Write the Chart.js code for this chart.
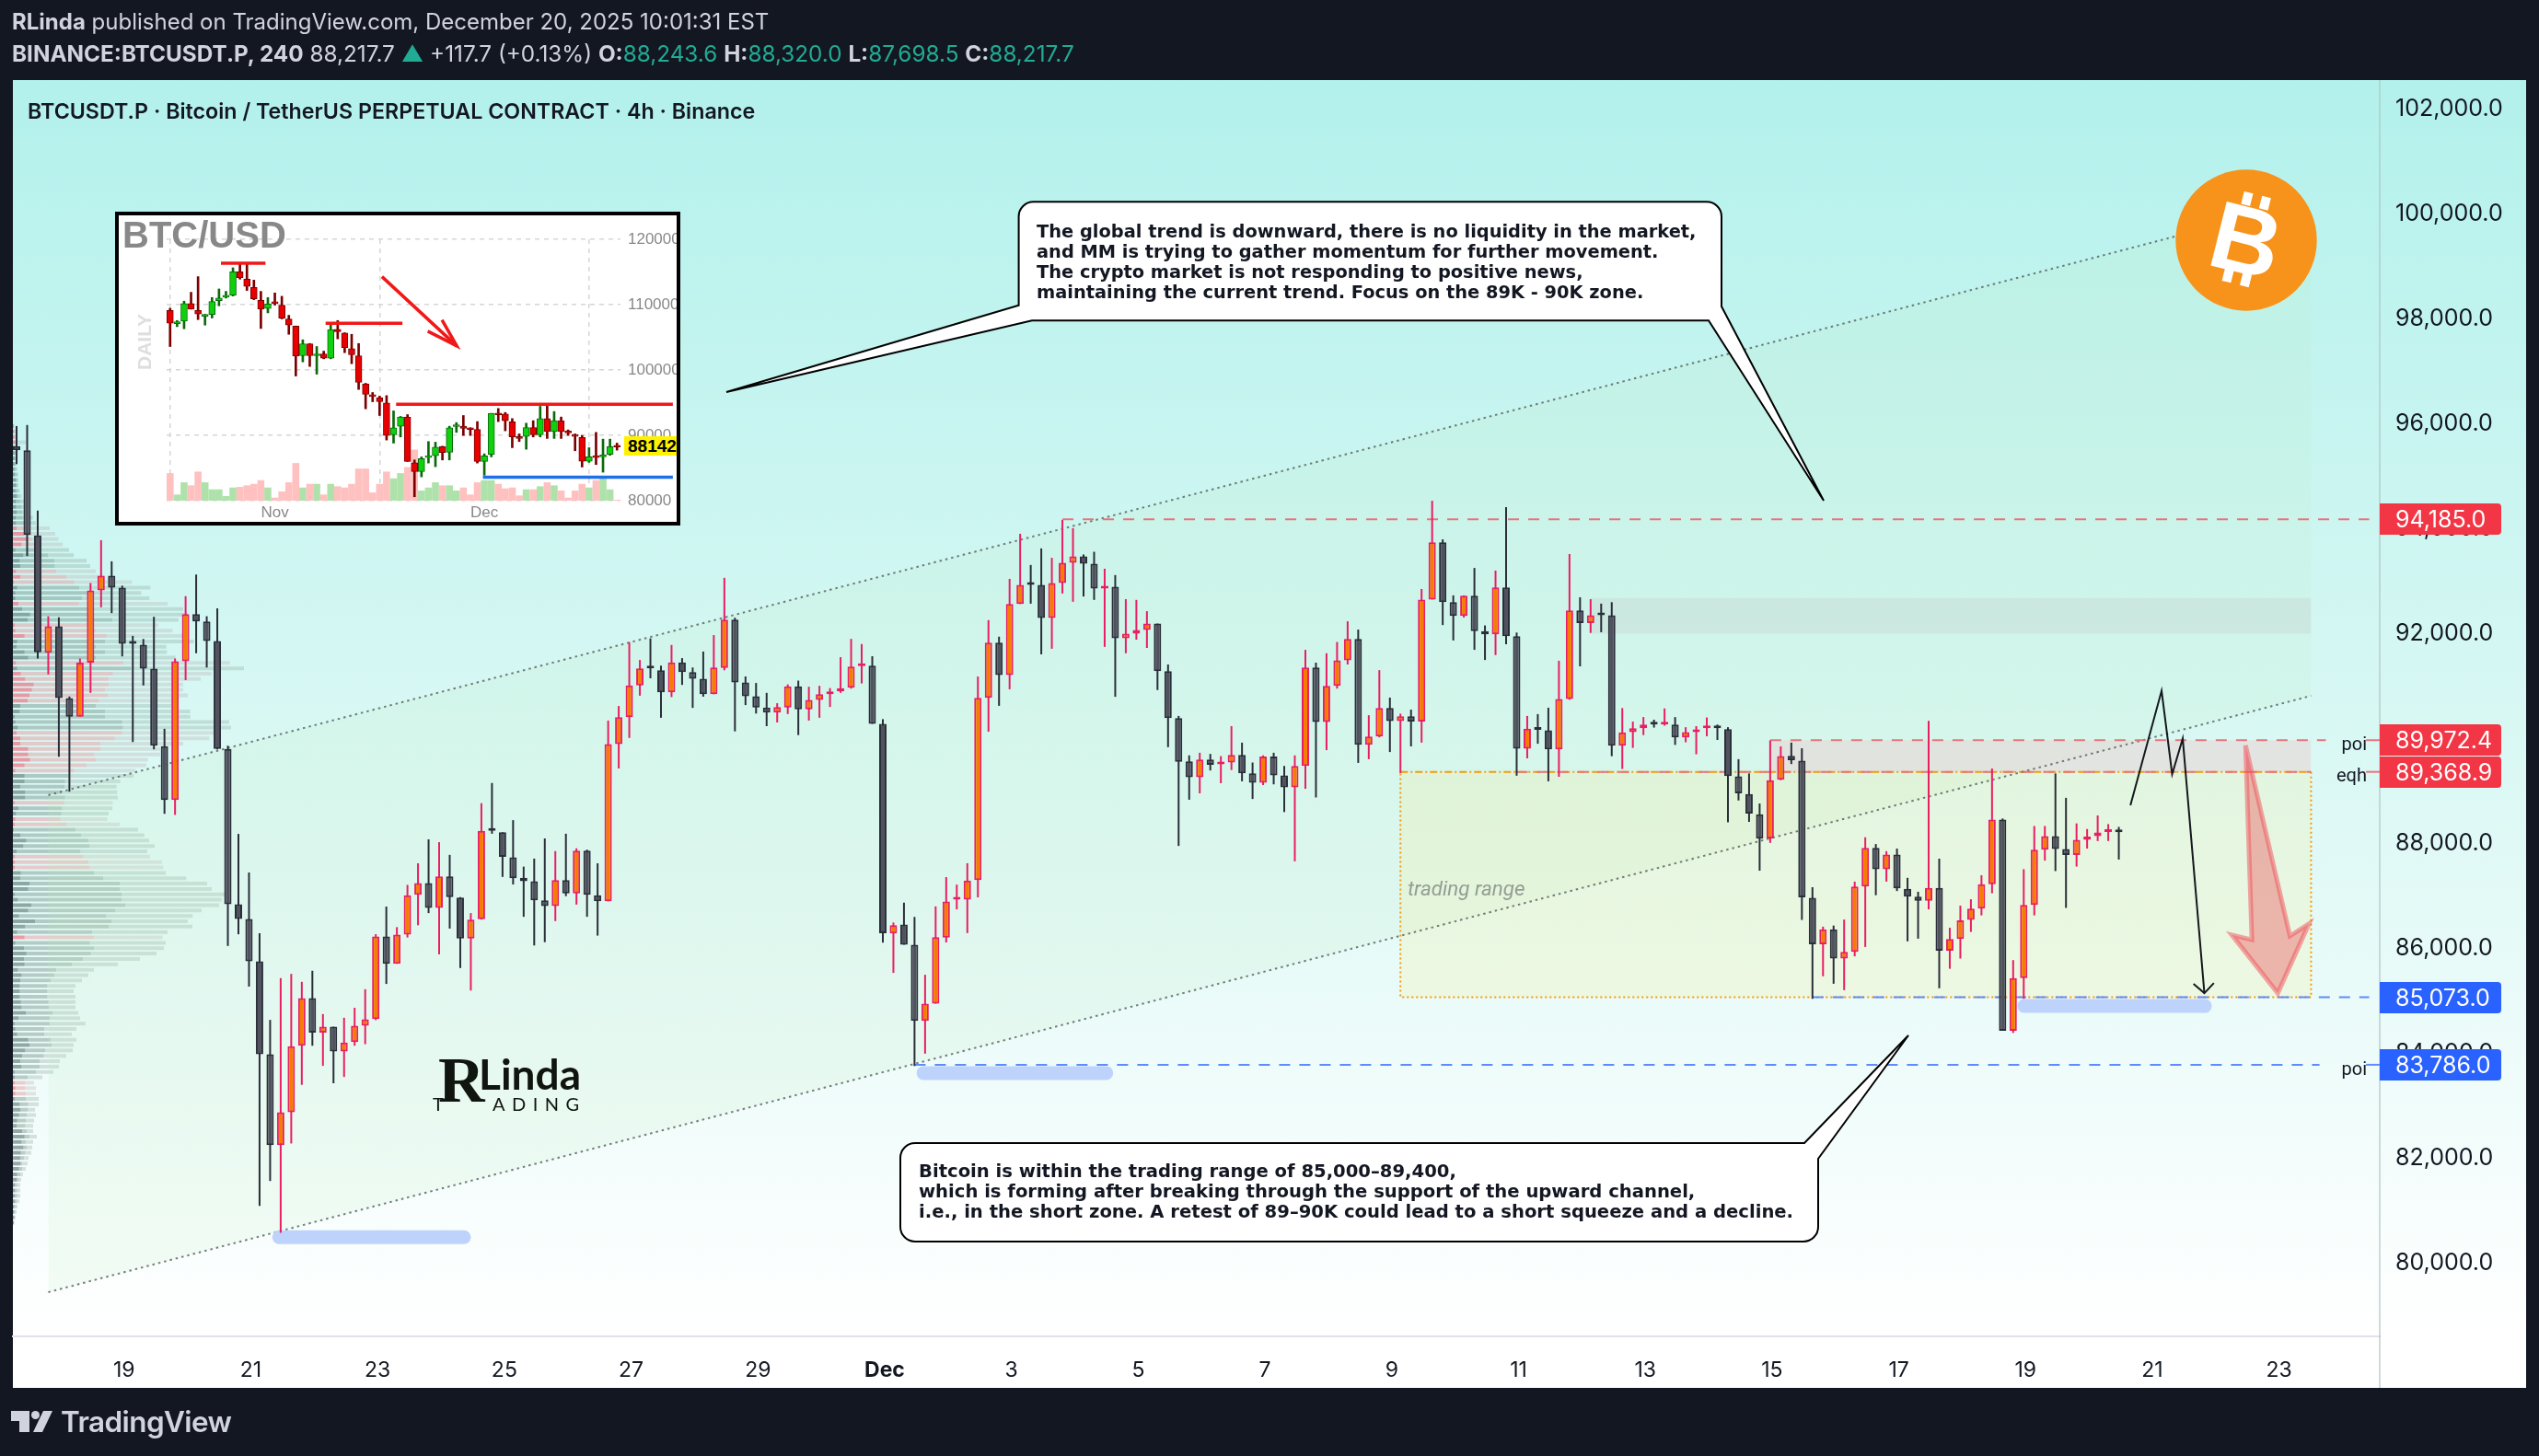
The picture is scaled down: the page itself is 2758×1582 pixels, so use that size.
<!DOCTYPE html>
<html>
<head>
<meta charset="utf-8">
<title>BTCUSDT.P</title>
<script src="https://cdn.jsdelivr.net/npm/chart.js@4"></script>
<style>
    html, body { margin: 0; padding: 0; background: #131722; }
    #page { position: relative; width: 2758px; height: 1582px; overflow: hidden; background: #131722; font-family: Inter, sans-serif; }
    #panel { position: absolute; left: 14px; top: 87px; width: 2730px; height: 1421px; background: linear-gradient(#b3f1ec 0%, #d9f8f4 50%, #ffffff 96%); }
    #xband { position: absolute; left: 14px; top: 1452px; width: 2730px; height: 56px; background: #fff; }
    #mainChart { position: absolute; left: 0; top: 0; }
    .txt { position: absolute; white-space: pre; z-index: 3; }
    .head { color: #d1d4dc; font-size: 24px; line-height: 30px; left: 13px; }
    .teal { color: #22ab94; }
    .callout { font-family: "DejaVu Sans", sans-serif; font-weight: 700; font-size: 19.4px; line-height: 22px; color: #131722; }
    .lvl { font-family: Roboto, sans-serif; font-size: 20px; color: #131722; width: 50px; text-align: right; }
    #inset { position: absolute; left: 125px; top: 230px; width: 606px; height: 333px; border: 4.5px solid #000; background: #fff; overflow: hidden; z-index: 2; }
    #insetChart { position: absolute; left: 0; top: 0; }
    #insetChart + div { z-index: 2; }
</style>
</head>
<body>
<div id="page">
    <div id="panel"></div>
    <div id="xband"></div>
    <canvas id="mainChart" width="2758" height="1582"></canvas>

    <div class="txt head" style="top:9px"><b>RLinda</b> published on TradingView.com, December 20, 2025 10:01:31 EST</div>
    <div class="txt head" style="top:43px;font-size:24.3px"><b>BINANCE:BTCUSDT.P, 240</b> 88,217.7 <span class="teal">▲</span> +117.7 (+0.13%) <b>O:</b><span class="teal">88,243.6</span> <b>H:</b><span class="teal">88,320.0</span> <b>L:</b><span class="teal">87,698.5</span> <b>C:</b><span class="teal">88,217.7</span></div>
    <div class="txt" style="left:30px;top:106px;font-size:23.25px;font-weight:600;color:#131722">BTCUSDT.P · Bitcoin / TetherUS PERPETUAL CONTRACT · 4h · Binance</div>

    <div class="txt callout" style="left:1126px;top:241px">The global trend is downward, there is no liquidity in the market,
and MM is trying to gather momentum for further movement.
The crypto market is not responding to positive news,
maintaining the current trend. Focus on the 89K - 90K zone.</div>
    <div class="txt callout" style="left:998px;top:1262px;font-size:19.6px">Bitcoin is within the trading range of 85,000–89,400,
which is forming after breaking through the support of the upward channel,
i.e., in the short zone. A retest of 89–90K could lead to a short squeeze and a decline.</div>

    <div class="txt" style="left:1529px;top:952px;font-family:Roboto,sans-serif;font-style:italic;font-size:22.4px;color:#949d95">trading range</div>
    <div class="txt lvl" style="left:2521px;top:796px">poi</div>
    <div class="txt lvl" style="left:2521px;top:830px">eqh</div>
    <div class="txt lvl" style="left:2521px;top:1149px">poi</div>

    <!-- marca de agua -->
    <div class="txt" style="left:476px;top:1137px;font-family:'Liberation Serif',serif;font-weight:700;font-size:70px;line-height:74px;color:#10160f">R</div>
    <div class="txt" style="left:520px;top:1140px;font-family:Lato,sans-serif;font-weight:700;font-size:46px;line-height:54px;color:#10160f">Linda</div>
    <div class="txt" style="left:470px;top:1187px;font-family:Lato,sans-serif;font-size:20px;line-height:24px;color:#10160f">T</div>
    <div class="txt" style="left:535px;top:1187px;font-family:Lato,sans-serif;font-size:20px;line-height:24px;letter-spacing:7.5px;color:#10160f">ADING</div>

    <!-- logo BTC -->
    <svg style="position:absolute;left:2363px;top:184px;z-index:2" width="154" height="154" viewBox="0 0 154 154">
        <circle cx="77" cy="77" r="76.7" fill="#f7931a"/>
        <g transform="rotate(14 77 77)" fill="#fff">
            <text x="77" y="113" text-anchor="middle" font-family="Liberation Sans" font-weight="700" font-size="104">B</text>
            <rect x="62" y="26" width="10" height="14"/><rect x="82" y="26" width="10" height="14"/>
            <rect x="62" y="112" width="10" height="14"/><rect x="82" y="112" width="10" height="14"/>
        </g>
    </svg>

    <!-- grafico pequeno -->
    <div id="inset">
        <canvas id="insetChart" width="606" height="333"></canvas>
        <div class="txt" style="left:4px;top:-2px;font-family:'Liberation Sans',sans-serif;font-weight:700;font-size:40px;line-height:46px;color:#888">BTC/USD</div>
        <div class="txt" style="left:-2px;top:125px;width:60px;height:26px;font-family:'Liberation Sans',sans-serif;font-weight:700;font-size:21px;line-height:26px;color:#dedede;transform:rotate(-90deg)">DAILY</div>
        <div class="txt" style="left:549px;top:240px;width:60px;height:21px;background:#fff200;font-family:'Liberation Sans',sans-serif;font-weight:700;font-size:19px;line-height:21px;color:#000;padding-left:4px">88142.</div>
    </div>

    <!-- pie -->
    <svg style="position:absolute;left:12px;top:1533px" width="46" height="24" viewBox="0 0 46 24" fill="#d1d4dc">
        <path d="M0 0H20V23H9V11H0Z"/><circle cx="26.5" cy="4.5" r="4.5"/><path d="M35 0H45L34 23H24Z"/>
    </svg>
    <div class="txt" style="left:66px;top:1524px;font-size:31.5px;line-height:42px;font-weight:600;color:#d1d4dc;letter-spacing:-0.6px">TradingView</div>
</div>

<script>
    Chart.defaults.font.family = 'Inter';

    // Velas de 4h, la barra 0 es el 1 de diciembre
    const firstBar = -82;
    const opens = [
        95578,95497,93876,91640,92144,90774,90422,91449,92828,93110,
        92879,91821,91791,91338,89858,88831,91479,92375,92234,91862,
        89807,86847,86565,85759,83987,82255,82879,84148,85054,84400,
        84511,84037,84219,84531,84655,86230,85711,86266,87026,87250,
        86776,87375,86973,86194,86561,88262,88217,87742,87349,87286,
        86919,86812,87304,87053,87868,87018,86901,89899,90410,91018,
        91358,91305,90884,91457,91269,91143,90848,91349,92271,91072,
        90812,90597,90499,90597,90999,90562,90740,90848,90902,90973,
        91385,91394,90284,86289,86461,86074,84621,84950,86210,86933,
        86933,87306,90778,91831,91215,92568,92948,92933,92303,92969,
        93356,93478,93335,92862,92898,91917,92003,92074,92196,91287,
        90392,89568,89268,89604,89511,89547,89690,89339,89160,89661,
        89303,89074,89482,91358,90320,91007,91494,91903,89883,90041,
        90585,90335,90427,90327,92654,93743,92604,92339,92726,92053,
        91988,92883,91953,89812,90191,90163,89797,90757,92447,92203,
        92375,92354,89869,90127,90199,90285,90270,90270,90027,90127,
        90199,90220,90184,89282,88946,88559,88100,89218,89676,89583,
        86969,86082,86368,85810,85938,87184,87922,87514,87793,87141,
        86991,86912,87156,85960,86182,86547,86762,87227,88459,84435,
        85437,86833,87886,88144,87900,87786,88072,88144,88223,88244
    ];
    const highs = [
        95960,95980,94349,92335,92315,90805,91530,92969,93785,93382,
        92919,91962,91902,92325,90190,91530,92718,93130,92335,92486,
        89868,88186,87451,86293,84641,85437,85518,85367,85578,84752,
        84511,84682,84873,85226,86275,86802,86409,87214,87626,88083,
        88029,87787,86982,86677,88772,89157,88217,88449,87563,87716,
        88100,87859,88190,87912,87886,87626,90347,90624,91842,91501,
        91913,91394,91788,91537,91358,91662,91976,93068,92307,91188,
        91063,90875,90678,91036,91108,90991,91009,90965,91555,91904,
        91806,91573,90374,86497,86876,86604,85501,86805,87363,87220,
        87628,91187,92261,91946,93048,93907,93313,93628,93449,94172,
        94015,93513,93564,93241,93120,92661,92647,92432,92196,91416,
        90435,89683,89733,89711,89669,90241,89926,89547,89683,89733,
        89482,89683,91695,91451,91630,91845,92239,92081,90449,91308,
        90785,90478,90556,92855,94537,93800,92733,92733,93256,92160,
        93206,94416,92024,90435,90470,90592,91487,93521,92697,92661,
        92576,92604,90585,90327,90413,90363,90578,90413,90220,90241,
        90406,90270,90220,89611,89339,88766,89969,89855,89927,89819,
        87170,86418,86440,86554,87277,88122,87993,87857,87907,87349,
        87084,90342,87714,86397,86819,86941,87399,89433,88480,85781,
        87514,88337,88337,89339,88874,88387,88280,88538,88373,88320
    ];
    const lows = [
        95235,93483,91529,91227,89656,88992,90422,90875,92506,92395,
        91570,89938,91016,89798,88569,88549,91117,91630,91358,89798,
        86051,86273,85276,81097,81570,80582,82285,83403,84148,83766,
        83433,83554,84148,84178,84637,85326,85711,86212,86445,86677,
        85890,86382,85630,85201,86552,88190,87366,87223,86606,86060,
        86123,86525,87000,86839,86606,86248,86901,89434,90016,90821,
        91152,90400,90794,91027,90588,90803,90848,91305,90141,90642,
        90481,90240,90311,90472,90070,90347,90400,90606,90875,90955,
        91054,90284,86114,85537,86074,83762,83998,84950,86117,86747,
        86296,86976,90134,90628,90943,92568,92575,91609,91716,92769,
        92611,92712,92647,91752,90800,91630,91888,91731,90929,89840,
        87957,88838,88960,89396,89153,89404,89189,88852,89117,89131,
        88603,87664,89046,88881,89783,90957,91416,89540,89611,90027,
        89747,89346,89855,89926,92654,92167,91874,92311,91695,91501,
        91595,91802,89296,89626,89905,89189,89275,90743,91380,92017,
        92031,89668,89425,89826,90070,90213,90249,89883,89933,89704,
        90048,89977,88408,88824,88416,87485,88015,89210,89518,86547,
        85043,85473,85330,85208,85853,86031,87018,87277,87098,86139,
        86189,86748,85244,85616,85810,86318,86633,87055,84435,84392,
        85043,86633,87678,87478,86776,87564,87907,88051,88051,87698
    ];
    const closes = [
        95497,93886,91650,92144,90774,90422,91449,92828,93110,92879,
        91811,91811,91338,89868,88831,91479,92375,92234,91862,89807,
        86847,86565,85759,83987,82255,82879,84138,85054,84400,84511,
        84037,84209,84531,84652,86230,85711,86266,87018,87250,86776,
        87375,86982,86194,86552,88244,88244,87751,87340,87286,86919,
        86812,87304,87053,87868,87026,86901,89899,90410,91018,91340,
        91340,90884,91457,91269,91143,90848,91358,92271,91072,90812,
        90597,90499,90606,90999,90562,90740,90848,90902,90965,91376,
        91403,90284,86292,86447,86074,84621,84950,86218,86898,86962,
        87298,90778,91831,91215,92568,92933,92933,92303,92969,93356,
        93478,93335,92862,92905,91917,92003,92074,92196,91287,90392,
        89561,89268,89604,89504,89547,89690,89339,89160,89661,89303,
        89074,89482,91358,90320,91007,91494,91903,89883,90041,90585,
        90335,90427,90327,92654,93743,92604,92339,92726,92053,91988,
        92883,91953,89812,90191,90170,89797,90757,92447,92203,92354,
        92354,89869,90120,90199,90270,90270,90285,90027,90127,90163,
        90220,90199,89289,88960,88573,88094,89210,89669,89590,86977,
        86082,86368,85810,85938,87184,87922,87514,87793,87148,86991,
        86912,87156,85960,86182,86540,86762,87227,88459,84435,85437,
        86833,87886,88144,87900,87786,88072,88137,88216,88237,88218
    ];

    // Etiquetas de los ejes
    const dayLabels = ['19','21','23','25','27','29','Dec','3','5','7','9','11','13','15','17','19','21','23'];
    const firstDayBar = -72;
    const barsPerLabel = 12;
    const priceTicks = [80000, 82000, 84000, 86000, 88000, 90000, 92000, 94000, 96000, 98000, 100000, 102000];

    // Niveles de precio
    const levelHigh = 94185;
    const levelPoi = 89972.4;
    const levelEqh = 89368.9;
    const levelRangeLow = 85073;
    const levelLow = 83786;

    // Perfil de volumen: filas de arriba a abajo
    const profileTop = 95960;
    const profileStep = 102.6;
    const profileOuter = [
        6,10,12,42,14,12,10,12,15,18,18,18,22,28,40,45,55,65,75,120,138,148,162,183,198,240,252,270,295,388,
        448,418,445,505,555,570,540,475,520,555,590,500,502,530,708,753,648,612,555,555,570,520,516,578,578,705,711,660,640,555,
        480,480,440,435,400,393,350,338,340,342,326,324,312,308,348,408,428,444,462,438,447,486,490,498,565,633,648,694,680,672,
        615,586,570,585,504,488,498,492,468,414,342,264,246,225,204,198,204,204,204,213,219,237,207,192,207,198,195,174,153,150,
        132,96,69,75,75,84,84,72,75,69,66,66,78,66,63,60,51,48,42,33,27,24,24,24,21,15,12,9,6
    ];
    const profileMid = [
        4,6,8,14,10,9,8,9,10,13,14,14,16,18,24,28,30,32,40,50,60,62,70,75,114,135,136,141,174,200,
        216,246,225,215,250,260,324,250,270,306,300,270,300,270,360,384,326,312,312,300,310,280,270,300,300,356,358,356,332,285,
        285,265,270,240,200,180,170,168,160,170,168,160,158,155,176,204,222,246,250,220,228,246,250,264,294,348,348,354,354,366,
        333,304,322,312,258,264,250,264,254,228,192,141,135,123,112,112,112,116,118,130,120,120,102,102,123,126,105,100,87,87,
        75,48,40,40,42,42,50,48,45,42,40,45,54,42,45,40,36,30,30,24,18,14,14,14,12,8,6,6,4
    ];
    const profileDark = [
        3,4,5,8,6,5,5,5,5,6,10,10,8,12,10,10,12,10,10,12,36,45,28,8,34,22,24,10,24,4,
        14,8,8,18,30,56,48,6,8,38,14,12,38,50,10,14,26,40,68,62,54,48,24,22,6,8,16,12,24,24,
        50,50,56,38,8,38,38,24,40,40,6,18,10,8,6,3,24,44,34,12,6,6,6,26,24,54,50,6,16,60,
        50,20,72,40,14,38,8,36,44,36,38,16,28,24,22,22,22,26,28,42,18,6,8,14,50,54,40,30,24,28,
        6,6,6,8,8,6,22,24,20,14,12,30,38,28,34,26,24,24,20,14,12,6,6,6,6,4,4,3,3
    ];
    const profilePink = [
        1,1,1,1,0,0,0,0,0,0,0,0,0,0,0,0,0,0,0,1,1,1,1,0,0,0,0,1,1,1,
        0,0,0,1,0,0,0,1,1,1,0,0,0,0,1,0,1,1,1,1,1,1,0,0,0,0,0,1,1,1,
        1,1,1,1,1,0,0,0,0,0,1,0,0,1,1,0,0,0,0,0,1,1,1,0,0,0,0,0,0,0,
        0,0,0,0,0,1,0,0,0,0,0,0,0,0,0,0,0,0,0,0,0,0,0,0,0,0,0,0,0,0,
        0,0,1,1,1,0,0,0,0,0,0,0,0,0,0,0,0,0,0,0,0,0,0,0,0,0,0,0,0
    ];

    // Trazos del dibujo, en barras y precio
    const channelStartBar = -79;
    const channelEndBar = 135.2;
    const channelUpper = [88925, 100257];
    const channelLower = [79451, 90819];
    const channelUpperDrawnEnd = [122.5, 99584];
    const pathBars = [118.1, 121.05, 122.05, 123.05, 125.1];
    const pathPrices = [88731, 90915, 89325, 90005, 85151];
    const headBars = [124.07, 125.1, 126];
    const headPrices = [85330, 85151, 85344];
    const bigArrowBars = [129, 133.2, 135, 132.05, 127.7, 129.6, 129];
    const bigArrowPrices = [89876, 86239, 86475, 85151, 86261, 86168, 89876];

    // Grafico pequeno (diario)
    const insetOpens = [109120,107100,107480,110150,109120,108230,108510,110620,111140,111460,115030,113900,112640,110670,109400,110340,109920,107810,106730,102180,104010,102180,102460,101800,106210,105650,103260,102180,97860,96080,95750,94960,90080,91390,92800,85810,84450,86610,86890,88250,87410,91340,91390,91060,90920,86000,87080,93360,93270,92050,89700,89840,91200,90080,92560,90590,92240,90500,90130,89660,86040,86800,86700,87080,88340];
    const insetHighs = [109450,107570,110530,111890,114280,108510,111090,112400,112030,115640,116150,116150,113760,112030,111090,111790,111280,108370,106730,104620,104050,103590,102880,106870,107570,105700,105460,104050,97960,96550,95990,96080,93740,92890,93170,86230,86700,89050,88950,88340,91390,91950,93030,91160,92100,87170,93360,94110,93500,92560,90220,91860,92240,94440,94670,93640,92800,90830,90220,89980,88110,90450,89420,89420,88810];
    const insetLows = [103590,106630,106310,109310,107710,106870,107950,109820,111000,111320,113900,112170,110760,106350,108740,109920,107810,105460,99080,101240,100540,99360,101710,101710,104760,102650,100960,97020,94060,95140,93030,89280,88810,89750,86000,80600,83650,85760,85200,86230,86230,90450,89980,89980,85760,83890,86700,92100,90690,88110,89050,87870,89750,89750,89520,89520,89520,89980,87640,85150,85860,85530,84360,86940,87730];
    const insetCloses = [107150,107240,110150,109310,108560,108370,110480,111000,111320,115030,114140,112780,110900,109310,110100,110150,107950,106870,102130,104010,102180,102410,101800,106170,105840,103440,102320,98100,96270,95940,95140,89980,91160,92800,86000,84450,86420,86800,88200,87360,91160,91530,91060,90880,86000,86840,93360,93130,92240,89750,89520,91200,90080,92560,90590,92240,90590,90360,89840,86040,86700,86610,86940,88250,88200];
    const insetVolumes = [90,20,60,50,95,60,37,37,15,43,45,50,55,67,43,10,30,60,123,43,55,55,20,55,47,43,55,105,105,27,55,95,73,90,110,167,33,43,60,50,50,33,43,20,60,67,67,55,40,43,17,37,37,47,60,50,33,10,33,55,43,67,73,37,3];
    const insetPriceTicks = [80000, 90000, 100000, 110000, 120000];
    const insetMonthBars = [15, 45];
    const insetMonthLabels = ['Nov', 'Dec'];

    const formatoPrecio = new Intl.NumberFormat('en-US', { minimumFractionDigits: 1, maximumFractionDigits: 1 });

    // Linea simple sin puntos
    function linea(puntos, color, ancho, dash, orden, extra) {
        return Object.assign({
            type: 'line',
            data: puntos.map(p => ({ x: p[0], y: p[1] })),
            borderColor: color,
            borderWidth: ancho,
            borderDash: dash || [],
            pointRadius: 0,
            fill: false,
            order: orden
        }, extra || {});
    }

    function nivel(precio, desde, hasta, color, dash, orden) {
        return linea([[desde, precio], [hasta, precio]], color, 2, dash, orden);
    }

    // Zonas del perfil como segmentos separados por huecos
    function segmentosPerfil(inicio, fin, rosa) {
        const unidad = 1 / 3 / 11.475; // ancho de una unidad en barras
        const xMin = -82.35;
        const puntos = [];
        profileOuter.forEach((_, i) => {
            if (profilePink[i] !== rosa) return;
            const precio = profileTop - i * profileStep;
            puntos.push({ x: xMin + inicio[i] * unidad, y: precio });
            puntos.push({ x: xMin + fin[i] * unidad, y: precio });
            puntos.push({ x: xMin + fin[i] * unidad, y: null });
        });
        return puntos;
    }

    function capaPerfil(inicio, fin, rosa, color) {
        return {
            type: 'line',
            data: segmentosPerfil(inicio, fin, rosa),
            borderColor: color,
            borderWidth: 4,
            pointRadius: 0,
            spanGaps: false,
            fill: false,
            order: 90
        };
    }

    const ceros = profileOuter.map(() => 0);
    const barIndex = opens.map((_, i) => firstBar + i);
    const isUp = closes.map((c, i) => c >= opens[i]);

    const datasets = [
        // perfil de volumen
        capaPerfil(ceros, profileDark, 0, 'rgba(70,100,95,0.55)'),
        capaPerfil(profileDark, profileMid, 0, 'rgba(95,125,115,0.38)'),
        capaPerfil(profileMid, profileOuter, 0, 'rgba(125,145,135,0.26)'),
        capaPerfil(ceros, profileDark, 1, 'rgba(240,95,115,0.62)'),
        capaPerfil(profileDark, profileMid, 1, 'rgba(235,125,135,0.38)'),
        capaPerfil(profileMid, profileOuter, 1, 'rgba(175,150,150,0.24)'),

        // relleno del canal
        linea([[channelStartBar, channelUpper[0]], [channelEndBar, channelUpper[1]]], 'transparent', 0, null, 80,
            { fill: '+1', backgroundColor: 'rgba(190,235,190,0.16)' }),
        linea([[channelStartBar, channelLower[0]], [channelEndBar, channelLower[1]]], 'transparent', 0, null, 80),

        // zonas
        linea([[49, levelEqh], [channelEndBar, levelEqh]], 'transparent', 0, null, 70,
            { fill: { value: levelRangeLow }, backgroundColor: 'rgba(250,235,150,0.22)' }),
        linea([[84, levelPoi], [channelEndBar, levelPoi]], 'transparent', 0, null, 70,
            { fill: { value: levelEqh }, backgroundColor: 'rgba(235,205,205,0.45)' }),
        linea([[67, 92683], [channelEndBar, 92683]], 'transparent', 0, null, 70,
            { fill: { value: 92003 }, backgroundColor: 'rgba(190,190,190,0.25)' }),
        linea([[channelEndBar, levelEqh], [channelEndBar, levelRangeLow], [49, levelRangeLow], [49, levelEqh]], '#f59b0b', 2, [2, 3], 65),
        linea([[49, levelEqh], [channelEndBar, levelEqh]], '#f59b0b', 2, [8, 3, 2, 3], 64),

        // lineas del canal
        linea([[channelStartBar, channelUpper[0]], channelUpperDrawnEnd], 'rgba(85,95,90,0.8)', 2, [2.5, 4], 60),
        linea([[channelStartBar, channelLower[0]], [channelEndBar, channelLower[1]]], 'rgba(85,95,90,0.8)', 2, [2.5, 4], 60),

        // niveles
        nivel(levelHigh, 17, 140.7, '#e5757c', [12, 10], 50),
        nivel(levelPoi, 84, 136.6, '#e5757c', [12, 10], 50),
        nivel(levelPoi, 140.4, 141.7, '#e5757c', null, 50),
        nivel(levelEqh, 60, 135.2, '#e5757c', [12, 10], 50),
        nivel(levelEqh, 140.4, 141.7, '#e5757c', null, 50),
        nivel(levelRangeLow, 88, 140.7, '#5f8bff', [12, 10], 50),
        nivel(levelLow, 3, 136, '#5f8bff', [12, 10], 50),
        nivel(levelLow, 140.4, 141.7, '#5f8bff', null, 50),

        // barras azules redondeadas
        linea([[-57.15, 80500], [-39.65, 80500]], '#bdd3fb', 15, null, 40, { borderCapStyle: 'round' }),
        linea([[3.85, 83628], [21.15, 83628]], '#bdd3fb', 15, null, 40, { borderCapStyle: 'round' }),
        linea([[108.05, 84905], [125.15, 84905]], '#bdd3fb', 15, null, 40, { borderCapStyle: 'round' }),

        // flecha roja grande
        linea(bigArrowBars.map((b, i) => [b, bigArrowPrices[i]]), 'rgba(242,80,90,0.5)', 5, null, 30,
            { fill: 'shape', backgroundColor: 'rgba(235,70,80,0.38)' }),

        // mechas
        {
            type: 'bar',
            data: barIndex.map((b, i) => ({ x: b, y: [lows[i], highs[i]] })),
            backgroundColor: isUp.map(u => u ? '#e91e63' : '#2a2e39'),
            barThickness: 2,
            grouped: false,
            inflateAmount: 0,
            order: 11
        },
        // cuerpos
        {
            type: 'bar',
            data: barIndex.map((b, i) => ({ x: b, y: [opens[i], closes[i]] })),
            backgroundColor: isUp.map(u => u ? '#f57c00' : '#50535e'),
            borderColor: isUp.map(u => u ? '#e91e63' : '#2a2e39'),
            borderWidth: 2,
            borderSkipped: false,
            barThickness: 8,
            minBarLength: 3,
            grouped: false,
            inflateAmount: 0,
            order: 10
        },

        // camino previsto
        linea(pathBars.map((b, i) => [b, pathPrices[i]]), '#15181c', 2, null, 5),
        linea(headBars.map((b, i) => [b, headPrices[i]]), '#15181c', 2, null, 5)
    ];

    // Globos de texto
    function dibujarGlobos(ctx) {
        ctx.save();
        ctx.fillStyle = '#ffffff';
        ctx.strokeStyle = '#000000';
        ctx.lineWidth = 2;
        const r = 16;

        ctx.beginPath();
        ctx.moveTo(1106.6 + r, 219.3);
        ctx.arcTo(1870, 219.3, 1870, 240, r);
        ctx.lineTo(1870, 333);
        ctx.lineTo(1981, 544);
        ctx.lineTo(1856, 348.3);
        ctx.lineTo(1121, 348.3);
        ctx.lineTo(789, 426);
        ctx.lineTo(1106.6, 331.7);
        ctx.arcTo(1106.6, 219.3, 1130, 219.3, r);
        ctx.closePath();
        ctx.fill();
        ctx.stroke();

        ctx.beginPath();
        ctx.moveTo(978 + r, 1242);
        ctx.lineTo(1960, 1242);
        ctx.lineTo(2073, 1125);
        ctx.lineTo(1975, 1259);
        ctx.arcTo(1975, 1349, 1950, 1349, r);
        ctx.arcTo(978, 1349, 978, 1320, r);
        ctx.arcTo(978, 1242, 1000, 1242, r);
        ctx.closePath();
        ctx.fill();
        ctx.stroke();
        ctx.restore();
    }

    // Etiquetas de precio sobre el eje
    function dibujarEtiquetas(chart) {
        const ctx = chart.ctx;
        const escala = chart.scales.y;
        const etiquetas = [
            [levelHigh, '#f23645'],
            [levelPoi, '#f23645'],
            [levelEqh, '#f23645'],
            [levelRangeLow, '#2962ff'],
            [levelLow, '#2962ff']
        ];
        ctx.save();
        ctx.font = '25px Inter';
        ctx.textBaseline = 'middle';
        etiquetas.forEach(([precio, color]) => {
            const y = Math.round(escala.getPixelForValue(precio));
            ctx.fillStyle = color;
            ctx.beginPath();
            ctx.roundRect(2585, y - 17, 132, 34, [0, 4, 4, 0]);
            ctx.fill();
            ctx.fillStyle = '#ffffff';
            ctx.fillText(formatoPrecio.format(precio), 2602, y + 1);
        });
        ctx.restore();
    }

    new Chart(document.getElementById('mainChart'), {
        type: 'bar',
        data: { datasets: datasets },
        plugins: [{
            id: 'anotaciones',
            afterDatasetsDraw(chart) { dibujarGlobos(chart.ctx); },
            afterDraw(chart) {
                const ctx = chart.ctx;
                ctx.save();
                ctx.fillStyle = 'rgba(175,195,195,0.6)';
                ctx.fillRect(2584, 1452, 2, 56);
                ctx.restore();
                dibujarEtiquetas(chart);
            }
        }],
        options: {
            responsive: false,
            animation: false,
            devicePixelRatio: 1,
            layout: { padding: { left: 14, top: 88, right: 14, bottom: 74 } },
            plugins: { legend: { display: false }, tooltip: { enabled: false } },
            scales: {
                x: {
                    type: 'linear',
                    min: -82.35,
                    max: 141.7,
                    offset: false,
                    afterFit(scale) { scale.height = 56; },
                    afterBuildTicks(scale) { scale.ticks = dayLabels.map((_, i) => ({ value: firstDayBar + i * barsPerLabel })); },
                    grid: { display: false },
                    border: { display: true, color: '#e0e3eb', width: 2 },
                    ticks: {
                        autoSkip: false,
                        maxRotation: 0,
                        labelOffset: 2,
                        padding: 15,
                        color: '#131722',
                        font: ctx => ({ family: 'Inter', size: 23, weight: ctx.tick && ctx.tick.value === 0 ? '700' : '400' }),
                        callback: value => dayLabels[(value - firstDayBar) / barsPerLabel]
                    }
                },
                y: {
                    type: 'linear',
                    position: 'right',
                    min: 78609,
                    max: 102538,
                    afterFit(scale) { scale.width = 159; },
                    afterBuildTicks(scale) { scale.ticks = priceTicks.map(v => ({ value: v })); },
                    grid: { display: false },
                    border: { display: true, color: 'rgba(175,195,195,0.6)', width: 2 },
                    ticks: {
                        padding: 9,
                        color: '#131722',
                        font: { family: 'Inter', size: 25 },
                        callback: value => formatoPrecio.format(value)
                    }
                }
            }
        }
    });

    // Grafico pequeno dentro del recuadro
    const insetBars = insetOpens.map((_, i) => i);
    const insetUp = insetCloses.map((c, i) => c >= insetOpens[i]);

    new Chart(document.getElementById('insetChart'), {
        type: 'bar',
        data: {
            datasets: [
                linea([[7.28, 116342], [13.66, 116342]], '#f01818', 3.5, null, 1),
                linea([[22.27, 107149], [33.27, 107149]], '#f01818', 3.5, null, 1),
                linea([[32.36, 94768], [72, 94768]], '#f01818', 3.5, null, 1, { clip: false }),
                linea([[44.8, 83606], [72, 83606]], '#1e6fe8', 3.5, null, 1, { clip: false }),
                linea([[30.34, 114278], [41.05, 103679]], '#f01818', 3.5, null, 1),
                linea([[36.9, 105930], [41.05, 103679], [38.94, 107665]], '#f01818', 3.5, null, 1),
                {
                    type: 'bar',
                    data: insetBars.map((b, i) => ({ x: b, y: [insetOpens[i], insetCloses[i]] })),
                    backgroundColor: insetUp.map(u => u ? '#0ed00e' : '#e80000'),
                    borderColor: insetUp.map(u => u ? '#0a6a0a' : '#7a0000'),
                    borderWidth: 1,
                    borderSkipped: false,
                    barThickness: 7,
                    minBarLength: 2,
                    grouped: false,
                    order: 2
                },
                {
                    type: 'bar',
                    data: insetBars.map((b, i) => ({ x: b, y: [insetLows[i], insetHighs[i]] })),
                    backgroundColor: insetUp.map(u => u ? '#0a6a0a' : '#7a0000'),
                    barThickness: 2,
                    grouped: false,
                    order: 3
                },
                {
                    type: 'bar',
                    data: insetBars.map((b, i) => ({ x: b, y: insetVolumes[i] })),
                    backgroundColor: insetUp.map(u => u ? '#aee2aa' : '#ffc0c0'),
                    barThickness: 7.6,
                    inflateAmount: 0,
                    grouped: false,
                    yAxisID: 'yVol',
                    order: 4
                }
            ]
        },
        options: {
            responsive: false,
            animation: false,
            devicePixelRatio: 1,
            layout: { padding: { left: 52, top: 26, right: 0, bottom: 0 } },
            plugins: { legend: { display: false }, tooltip: { enabled: false } },
            scales: {
                x: {
                    type: 'linear',
                    min: -0.5,
                    max: 64.5,
                    offset: false,
                    afterFit(scale) { scale.height = 23; },
                    afterBuildTicks(scale) { scale.ticks = insetMonthBars.map(v => ({ value: v })); },
                    grid: { color: '#d6d6d6', lineWidth: 1.5, drawTicks: false },
                    border: { display: false, dash: [5, 5] },
                    ticks: {
                        autoSkip: false,
                        maxRotation: 0,
                        padding: 3,
                        color: '#888',
                        font: { family: 'Liberation Sans', size: 17 },
                        callback: value => insetMonthLabels[insetMonthBars.indexOf(value)]
                    }
                },
                y: {
                    type: 'linear',
                    position: 'right',
                    min: 80000,
                    max: 120000,
                    afterFit(scale) { scale.width = 61; },
                    afterBuildTicks(scale) { scale.ticks = insetPriceTicks.map(v => ({ value: v })); },
                    grid: { color: '#d6d6d6', lineWidth: 1.5, drawTicks: false },
                    border: { display: false, dash: [5, 5] },
                    ticks: { padding: 8, color: '#888', font: { family: 'Liberation Sans', size: 17 }, callback: value => String(value) }
                },
                yVol: { type: 'linear', display: false, min: 0, max: 855 }
            }
        }
    });
</script>
</body>
</html>
